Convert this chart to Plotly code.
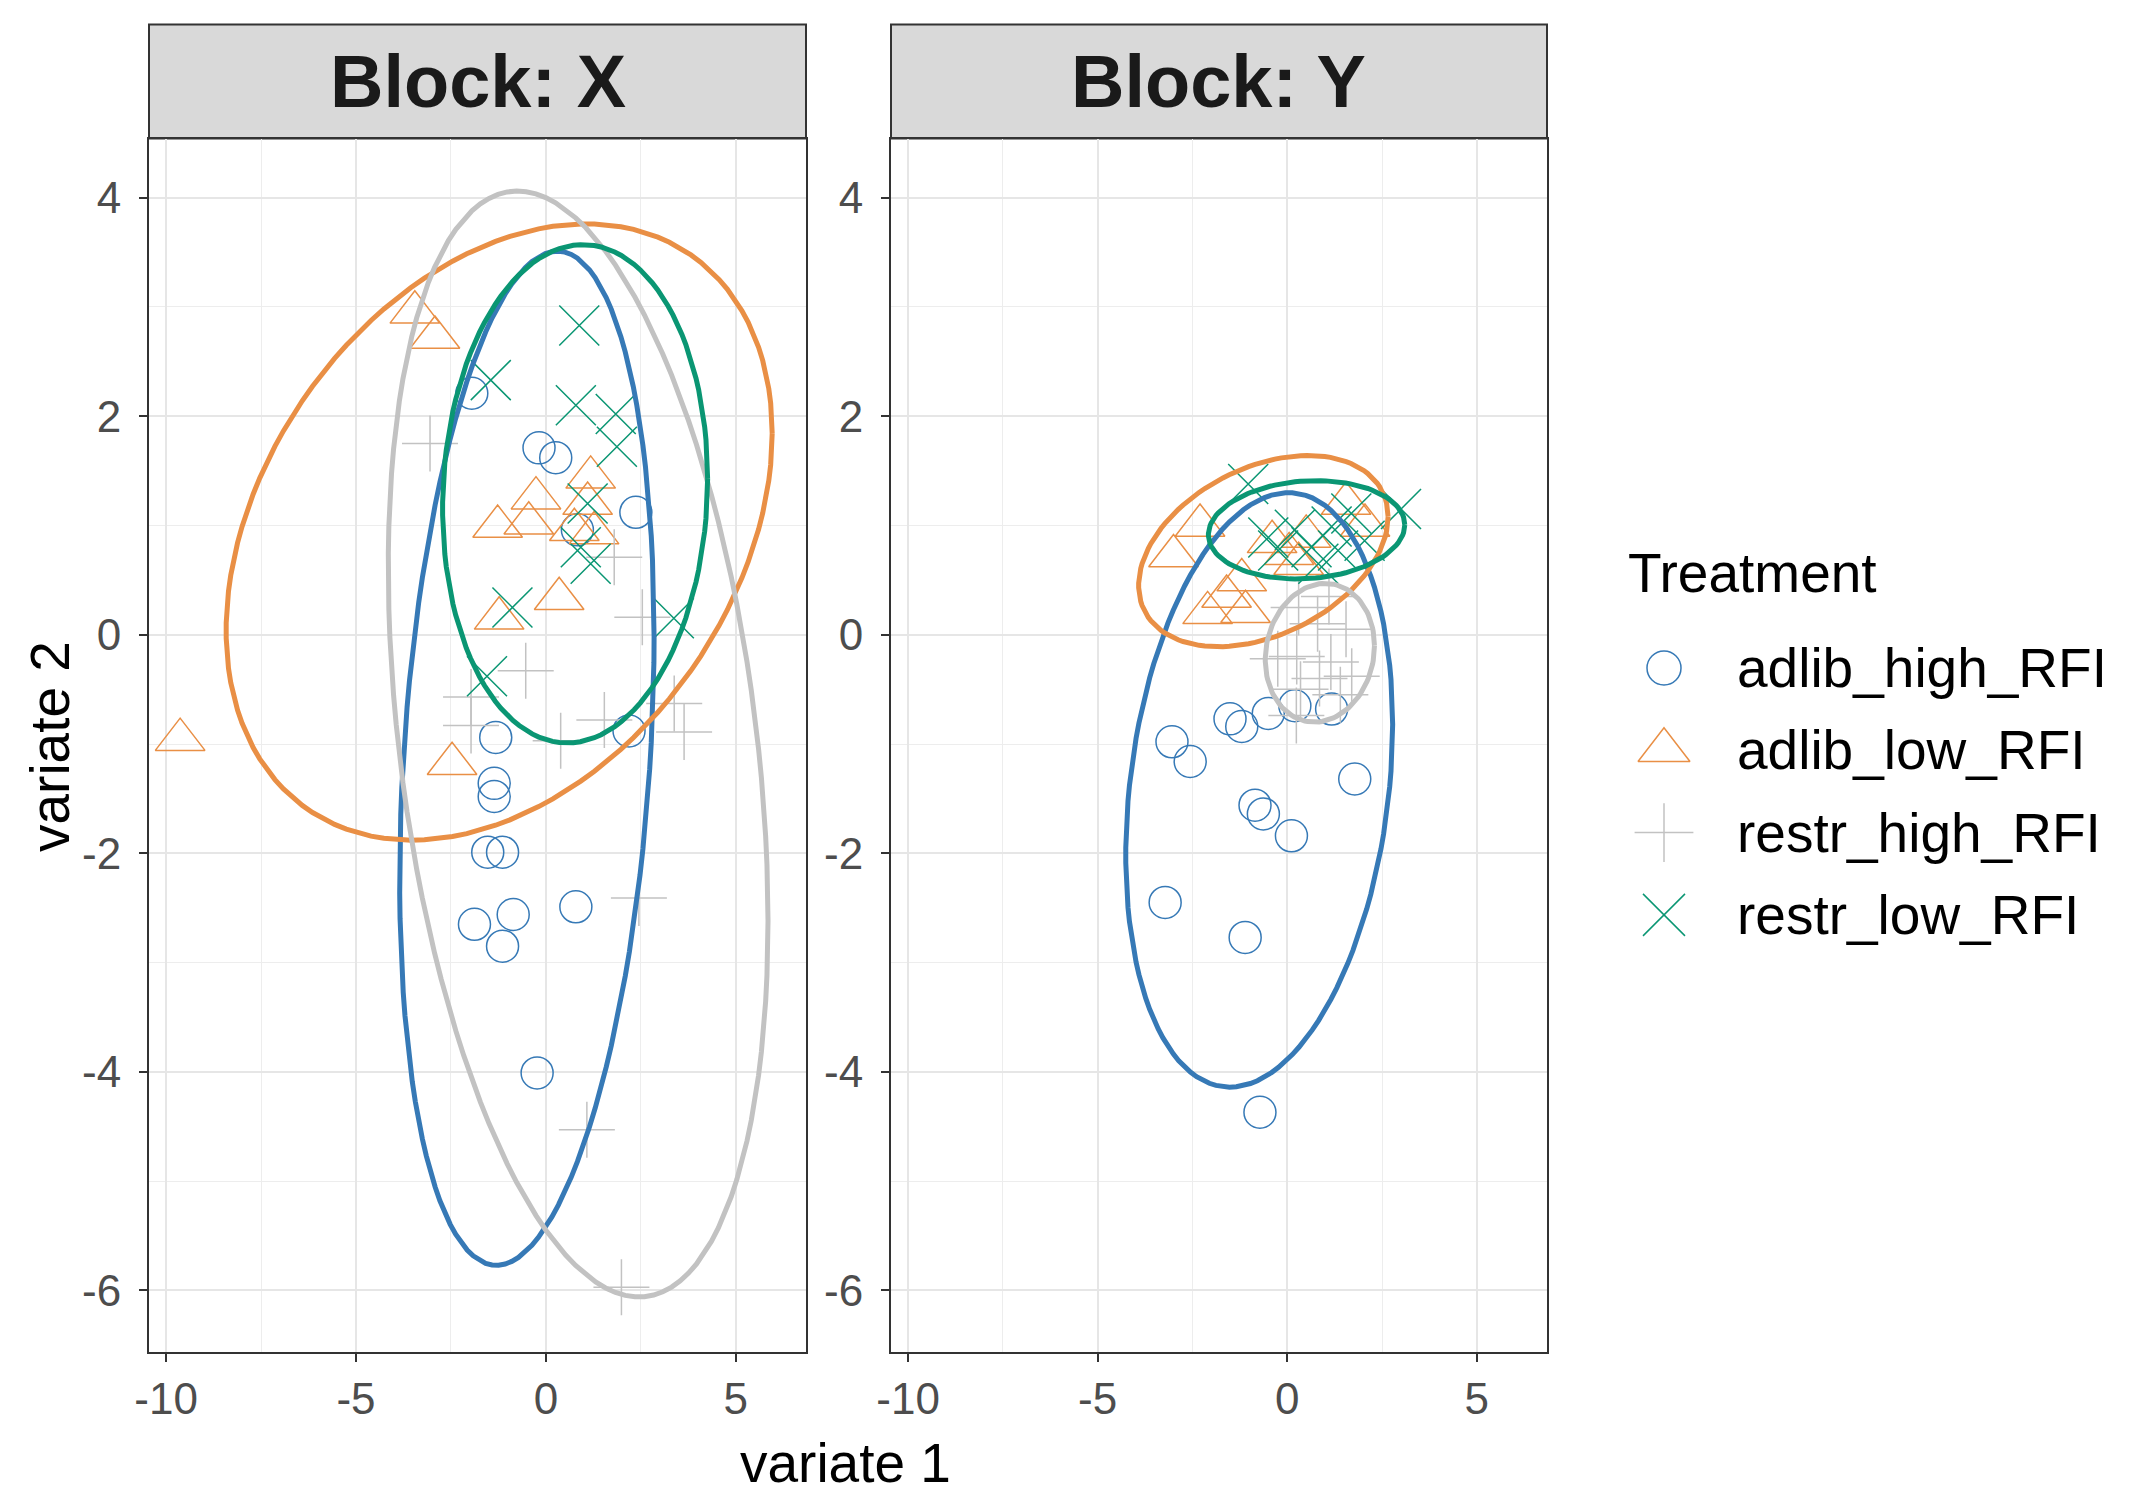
import numpy as np
import plotly.graph_objects as go

W, H = 2130, 1509
OFF = 8  # browser body margin around the figure
FONT = "Liberation Sans, Arial, sans-serif"

# ---------------- data ----------------
groups = ["adlib_high_RFI", "adlib_low_RFI", "restr_high_RFI", "restr_low_RFI"]
colors = ["#3679B6", "#E98F45", "#C2C2C2", "#0A9673"]
symbols = ["circle-open", "triangle-up-open", "cross-thin-open", "x-thin-open"]
blocks = ["X", "Y"]

# Block X
x_adlib_high_X = [-1.95, -0.18, 0.26, 2.37, 0.83, -1.32, -1.36, -1.36, -1.53, -1.14, 2.19, -1.88, -0.86, -1.14, 0.79, -0.23]
y_adlib_high_X = [2.21, 1.71, 1.62, 1.12, 0.96, -0.94, -1.36, -1.48, -1.99, -1.99, -0.88, -2.65, -2.56, -2.85, -2.49, -4.01]
x_adlib_low_X = [-3.45, -2.92, -1.27, -0.26, -0.45, 1.18, 0.75, 1.27, 0.35, -1.23, -9.63, -2.47, 1.10]
y_adlib_low_X = [2.95, 2.72, 0.99, 1.25, 1.02, 1.44, 0.96, 0.93, 0.33, 0.15, -0.96, -1.18, 1.20]
x_restr_high_X = [-3.05, 1.80, 2.54, -0.53, -1.97, -1.97, 1.54, 0.39, 3.64, 3.38, 2.45, 1.08, 1.99]
y_restr_high_X = [1.75, 0.71, 0.16, -0.33, -0.57, -0.83, -0.78, -0.97, -0.89, -0.63, -2.41, -4.53, -5.97]
x_restr_low_X = [0.88, -1.45, 0.79, 1.84, 1.87, 1.10, 0.92, 1.18, -0.88, 3.37, -1.55]
y_restr_low_X = [2.83, 2.33, 2.10, 2.02, 1.72, 1.20, 0.80, 0.65, 0.25, 0.15, -0.38]

# Block Y
x_adlib_high_Y = [-3.04, -2.56, -1.51, -1.20, -0.50, 0.20, 1.17, 1.78, -0.85, -0.63, 0.11, -3.22, -1.11, -0.72]
y_adlib_high_Y = [-0.98, -1.16, -0.77, -0.84, -0.72, -0.65, -0.68, -1.32, -1.56, -1.64, -1.84, -2.45, -2.77, -4.37]
x_adlib_low_Y = [-3.00, -2.30, -2.10, -1.60, -1.10, -1.20, -0.40, 0.05, 0.50, 1.55, 2.05, 0.30]
y_adlib_low_Y = [0.72, 1.00, 0.20, 0.35, 0.21, 0.50, 0.85, 0.74, 0.90, 1.20, 1.00, 0.65]
x_restr_high_Y = [0.30, 1.10, 1.55, 0.80, 0.25, 1.15, 1.70, 0.35, 0.24, 0.85, -0.25, 1.40]
y_restr_high_Y = [0.25, 0.35, 0.05, 0.10, -0.20, -0.25, -0.38, -0.50, -0.74, -0.40, -0.22, -0.55]
x_restr_low_Y = [-1.03, 3.00, -0.50, 0.20, 0.64, 1.17, 1.34, 1.69, -0.24, 0.82, 2.04]
y_restr_low_Y = [1.38, 1.15, 0.89, 0.96, 0.80, 0.99, 0.77, 1.11, 0.77, 0.65, 0.86]

points = {
    "X": [(x_adlib_high_X, y_adlib_high_X), (x_adlib_low_X, y_adlib_low_X),
          (x_restr_high_X, y_restr_high_X), (x_restr_low_X, y_restr_low_X)],
    "Y": [(x_adlib_high_Y, y_adlib_high_Y), (x_adlib_low_Y, y_adlib_low_Y),
          (x_restr_high_Y, y_restr_high_Y), (x_restr_low_Y, y_restr_low_Y)],
}

# 95% confidence ellipses: centre, half-extent in x / y, correlation
ell_cx_X = [-0.50, -1.23, 0.85, 0.77]
ell_cy_X = [-1.13, 0.94, -1.00, 1.29]
ell_sx_X = [3.35, 7.19, 5.00, 3.49]
ell_sy_X = [4.64, 2.82, 5.06, 2.28]
ell_rho_X = [0.24, 0.32, -0.32, 0.06]

ell_cx_Y = [-0.74, -0.63, 0.86, 0.51]
ell_cy_Y = [-1.42, 0.765, -0.165, 0.96]
ell_sx_Y = [3.52, 3.29, 1.44, 2.59]
ell_sy_Y = [2.72, 0.875, 0.635, 0.45]
ell_rho_Y = [0.22, 0.36, 0.10, 0.10]

ellipses = {
    "X": (ell_cx_X, ell_cy_X, ell_sx_X, ell_sy_X, ell_rho_X),
    "Y": (ell_cx_Y, ell_cy_Y, ell_sx_Y, ell_sy_Y, ell_rho_Y),
}

x_ticks = [-10, -5, 0, 5]
x_tick_labels = ["-10", "-5", "0", "5"]
y_ticks = [-6, -4, -2, 0, 2, 4]
y_tick_labels = ["-6", "-4", "-2", "0", "2", "4"]

# ---------------- styling ----------------
marker_sizes = [32, 43, 40, 40]
x_range = [-10.45, 6.85]
y_range = [-6.56, 4.54]
panel_px = [(149, 806), (891, 1547)]
panel_top, panel_bottom = 138.6, 1351.6
strip_top = 24.5


def fx(px):
    return (px - OFF) / W


def fy(py):
    return 1 - (py - OFF) / H


fig = go.Figure()

t = np.linspace(0, 2 * np.pi, 120)
for b_i, blk in enumerate(blocks):
    xa = "x" if b_i == 0 else "x2"
    ya = "y" if b_i == 0 else "y2"
    for g_i, g in enumerate(groups):
        xs, ys = points[blk][g_i]
        fig.add_trace(go.Scatter(
            x=xs, y=ys, mode="markers", xaxis=xa, yaxis=ya, showlegend=False,
            name=g, hoverinfo="skip",
            marker=dict(symbol=symbols[g_i], size=marker_sizes[g_i], color=colors[g_i],
                        line=dict(width=1.5, color=colors[g_i]))))
    cx, cy, sx, sy, rho = ellipses[blk]
    for g_i, g in enumerate(groups):
        ex = cx[g_i] + sx[g_i] * np.cos(t)
        ey = cy[g_i] + sy[g_i] * (rho[g_i] * np.cos(t) + np.sqrt(1 - rho[g_i] ** 2) * np.sin(t))
        fig.add_trace(go.Scatter(
            x=ex, y=ey, mode="lines", xaxis=xa, yaxis=ya, showlegend=False,
            hoverinfo="skip", line=dict(color=colors[g_i], width=5)))

axis_common = dict(
    showgrid=True, gridcolor="#E6E6E6", gridwidth=1.8, zeroline=False,
    showline=True, mirror=True, linecolor="#333333", linewidth=2,
    ticks="outside", ticklen=8, tickwidth=1.8, tickcolor="#333333",
    tickfont=dict(family=FONT, size=44, color="#4D4D4D"), automargin=False,
)

ydom = [fy(panel_bottom), fy(panel_top)]
for b_i in range(2):
    sfx = "" if b_i == 0 else "2"
    x0, x1 = panel_px[b_i]
    fig.update_layout(**{
        "xaxis" + sfx: dict(axis_common, domain=[fx(x0), fx(x1)], range=x_range,
                            anchor="y" + sfx, tickmode="array", tickvals=x_ticks,
                            ticktext=x_tick_labels,
                            minor=dict(dtick=2.5, tick0=0, showgrid=True,
                                       gridcolor="#EDEDED", gridwidth=1.2, ticks="")),
        "yaxis" + sfx: dict(axis_common, domain=ydom, range=y_range,
                            anchor="x" + sfx, tickmode="array", tickvals=y_ticks,
                            ticktext=y_tick_labels, ticklabelstandoff=9,
                            minor=dict(dtick=1, tick0=0, showgrid=True,
                                       gridcolor="#EDEDED", gridwidth=1.2, ticks="")),
    })

# strips
shapes = []
annotations = []
for b_i, blk in enumerate(blocks):
    x0, x1 = panel_px[b_i]
    shapes.append(dict(type="rect", xref="paper", yref="paper",
                       x0=fx(x0), x1=fx(x1), y0=fy(panel_top), y1=fy(strip_top),
                       fillcolor="#D9D9D9", line=dict(color="#333333", width=2), layer="below"))
    annotations.append(dict(xref="paper", yref="paper", x=fx((x0 + x1) / 2),
                            y=fy((panel_top + strip_top) / 2), text="<b>Block: %s</b>" % blk,
                            showarrow=False, xanchor="center", yanchor="middle",
                            font=dict(family=FONT, size=74, color="#1A1A1A")))

annotations.append(dict(xref="paper", yref="paper", x=fx(845), y=fy(1463), text="variate 1",
                        showarrow=False, xanchor="center", yanchor="middle",
                        font=dict(family=FONT, size=55, color="#000000")))
annotations.append(dict(xref="paper", yref="paper", x=fx(50), y=fy(747), text="variate 2",
                        showarrow=False, xanchor="center", yanchor="middle", textangle=-90,
                        font=dict(family=FONT, size=55, color="#000000")))

# manual legend
LEG_TITLE_X, LEG_TITLE_Y = 1626, 573
LEG_MARK_X, LEG_TEXT_X = 1664, 1735
LEG_Y0, LEG_DY = 668, 82.3
annotations.append(dict(xref="paper", yref="paper", x=fx(LEG_TITLE_X), y=fy(LEG_TITLE_Y),
                        text="Treatment", showarrow=False, xanchor="left", yanchor="middle",
                        font=dict(family=FONT, size=55, color="#000000")))
for g_i, g in enumerate(groups):
    yy = LEG_Y0 + g_i * LEG_DY
    fig.add_trace(go.Scatter(
        x=[LEG_MARK_X - OFF], y=[yy - OFF], mode="markers", xaxis="x3", yaxis="y3",
        showlegend=False, hoverinfo="skip",
        marker=dict(symbol=symbols[g_i], size=marker_sizes[g_i] + 2, color=colors[g_i],
                    line=dict(width=1.5, color=colors[g_i]))))
    annotations.append(dict(xref="paper", yref="paper", x=fx(LEG_TEXT_X), y=fy(yy),
                            text=g, showarrow=False, xanchor="left", yanchor="middle",
                            font=dict(family=FONT, size=55, color="#000000")))

fig.update_layout(
    xaxis3=dict(domain=[0, 1], range=[0, W], visible=False, anchor="y3", fixedrange=True,
                automargin=False),
    yaxis3=dict(domain=[0, 1], range=[H, 0], visible=False, anchor="x3", fixedrange=True,
                automargin=False),
    width=W, height=H, margin=dict(l=0, r=0, t=0, b=0, autoexpand=False),
    paper_bgcolor="white", plot_bgcolor="rgba(0,0,0,0)",
    shapes=shapes, annotations=annotations, showlegend=False,
)

fig.write_html("out.html")
